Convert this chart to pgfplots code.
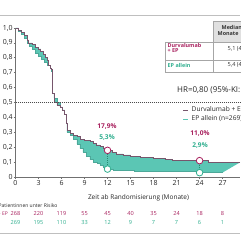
\documentclass[border=0pt]{standalone}
\usepackage{pgfplots}
\pgfplotsset{compat=1.18}
\usepgfplotslibrary{fillbetween}
\usepackage{fontspec}
\setmainfont{Open Sans}
\definecolor{durva}{HTML}{A8215E}
\definecolor{durvaline}{HTML}{76566C}
\definecolor{ep}{HTML}{2FAE8E}
\definecolor{epfill}{HTML}{5BC6B4}
\definecolor{axgray}{HTML}{707070}
\begin{document}
\begin{tikzpicture}[x=1pt,y=1pt]
% separator lines
\draw[black!25, line width=0.8pt] (0,225) -- (240,225);
\draw[black!25, line width=0.8pt] (0,7) -- (240,7);
\begin{axis}[
  at={(15.5pt,63pt)}, anchor=south west, scale only axis,
  width=224.5pt, height=149pt,
  xmin=0, xmax=29.27, ymin=0, ymax=1,
  axis lines*=left, axis line style={axgray, line width=0.6pt},
  tick style={axgray, line width=0.6pt}, tick align=outside, major tick length=2pt,
  xtick={0,3,6,9,12,15,18,21,24,27},
  ytick={0,0.1,0.2,0.3,0.4,0.5,0.6,0.7,0.8,0.9,1.0},
  yticklabels={0,{0,1},{0,2},{0,3},{0,4},{0,5},{0,6},{0,7},{0,8},{0,9},{1,0}},
  ticklabel style={font=\fontsize{7}{8}\selectfont, text=black!85},
  yticklabel style={inner sep=0.6pt},
  xticklabel style={inner sep=1.2pt},
  clip=false,
  /pgf/number format/assume math mode=true,
]
\addplot[name path=durvaP, draw=none, const plot] coordinates {
(0,1.0)(0.4,0.985)(0.8,0.97)(1.2,0.95)(1.5,0.92)(1.7,0.90)(2.2,0.89)(2.6,0.87)(3.0,0.86)(3.3,0.84)(3.6,0.82)(3.9,0.80)(4.1,0.78)(4.3,0.75)(4.5,0.73)(4.7,0.72)(4.86,0.56)(5.0,0.53)(5.1,0.50)(5.4,0.48)(5.8,0.47)(6.1,0.45)(6.4,0.42)(6.6,0.36)(6.7,0.31)(7.2,0.295)(7.6,0.28)(8.0,0.27)(8.5,0.255)(9.0,0.245)(9.7,0.237)(10.2,0.225)(10.6,0.215)(11.0,0.205)(11.4,0.195)(11.8,0.185)(12.0,0.179)(12.6,0.165)(13.2,0.155)(14,0.148)(15,0.14)(16.3,0.132)(18,0.127)(19.5,0.12)(20.5,0.112)(24,0.110)(25.2,0.098)(29.27,0.098)};
\addplot[name path=epP, draw=none, const plot] coordinates {
(0,1.0)(0.4,0.98)(0.8,0.96)(1.2,0.93)(1.5,0.90)(1.8,0.88)(2.2,0.86)(2.6,0.83)(3.0,0.81)(3.4,0.79)(3.8,0.77)(4.2,0.75)(4.5,0.73)(4.7,0.71)(4.86,0.56)(5.1,0.53)(5.4,0.50)(5.8,0.47)(6.1,0.45)(6.4,0.42)(6.6,0.36)(6.7,0.30)(7.2,0.28)(7.6,0.25)(8.0,0.22)(8.4,0.19)(8.8,0.165)(9.2,0.14)(9.7,0.117)(10.2,0.10)(10.6,0.094)(11.0,0.08)(11.4,0.068)(11.8,0.058)(12,0.053)(12.8,0.046)(14,0.042)(15.5,0.038)(18,0.035)(21,0.035)(24,0.030)(27,0.030)};
\addplot[epfill, draw=none] fill between[of=durvaP and epP];
\addplot[epfill!85!black, line width=0.6pt, const plot] coordinates {
(0,1.0)(0.4,0.98)(0.8,0.96)(1.2,0.93)(1.5,0.90)(1.8,0.88)(2.2,0.86)(2.6,0.83)(3.0,0.81)(3.4,0.79)(3.8,0.77)(4.2,0.75)(4.5,0.73)(4.7,0.71)(4.86,0.56)(5.1,0.53)(5.4,0.50)(5.8,0.47)(6.1,0.45)(6.4,0.42)(6.6,0.36)(6.7,0.30)(7.2,0.28)(7.6,0.25)(8.0,0.22)(8.4,0.19)(8.8,0.165)(9.2,0.14)(9.7,0.117)(10.2,0.10)(10.6,0.094)(11.0,0.08)(11.4,0.068)(11.8,0.058)(12,0.053)(12.8,0.046)(14,0.042)(15.5,0.038)(18,0.035)(21,0.035)(24,0.030)(27,0.030)};
\addplot[durvaline, line width=0.7pt, const plot] coordinates {
(0,1.0)(0.4,0.985)(0.8,0.97)(1.2,0.95)(1.5,0.92)(1.7,0.90)(2.2,0.89)(2.6,0.87)(3.0,0.86)(3.3,0.84)(3.6,0.82)(3.9,0.80)(4.1,0.78)(4.3,0.75)(4.5,0.73)(4.7,0.72)(4.86,0.56)(5.0,0.53)(5.1,0.50)(5.4,0.48)(5.8,0.47)(6.1,0.45)(6.4,0.42)(6.6,0.36)(6.7,0.31)(7.2,0.295)(7.6,0.28)(8.0,0.27)(8.5,0.255)(9.0,0.245)(9.7,0.237)(10.2,0.225)(10.6,0.215)(11.0,0.205)(11.4,0.195)(11.8,0.185)(12.0,0.179)(12.6,0.165)(13.2,0.155)(14,0.148)(15,0.14)(16.3,0.132)(18,0.127)(19.5,0.12)(20.5,0.112)(24,0.110)(25.2,0.098)(29.27,0.098)};
% median line
\addplot[black!70, line width=0.6pt, dash pattern=on 0.8pt off 1.2pt] coordinates {(0,0.5)(29.27,0.5)};
% landmark markers
\addplot[ep!80!black, line width=0.6pt, dash pattern=on 0.8pt off 1.2pt] coordinates {(12,0.179)(12,0.053)};
\addplot[ep!80!black, line width=0.6pt, dash pattern=on 0.8pt off 1.2pt] coordinates {(24,0.110)(24,0.029)};
\addplot[only marks, mark=*, mark size=3.3pt, mark options={fill=white, draw=durva, line width=0.8pt}] coordinates {(12,0.179)(24,0.110)};
\addplot[only marks, mark=*, mark size=3.3pt, mark options={fill=white, draw=ep, line width=0.8pt}] coordinates {(12,0.053)(24,0.029)};
\end{axis}
% annotations
\node[font=\fontsize{6.6}{7}\selectfont\bfseries, text=durva] at (107,113) {17,9\%};
\node[font=\fontsize{6.6}{7}\selectfont\bfseries, text=ep] at (107,102) {5,3\%};
\node[font=\fontsize{6.6}{7}\selectfont\bfseries, text=durva] at (200,106) {11,0\%};
\node[font=\fontsize{6.6}{7}\selectfont\bfseries, text=ep] at (200,94) {2,9\%};
% x label
\node[font=\fontsize{6.5}{7}\selectfont, text=black!85] at (138.5,42) {Zeit ab Randomisierung (Monate)};
% risk table
\node[font=\fontsize{5}{6}\selectfont, text=black!85, anchor=west, inner sep=0pt] at (-1.5,34.5) {Patientinnen unter Risiko};
\node[font=\fontsize{5}{6}\selectfont, text=durva, anchor=east, inner sep=0pt] at (8,26.3) {Durvalumab + EP};
\foreach \m/\a/\b in {0/268/269,3/220/195,6/119/110,9/55/33,12/45/12,15/40/9,18/35/7,21/24/7,24/18/6,27/8/1}{
  \node[font=\fontsize{5.6}{7}\selectfont, text=durva] at (15.5+7.67*\m,26.3) {\a};
  \node[font=\fontsize{5.6}{7}\selectfont, text=ep] at (15.5+7.67*\m,17.3) {\b};
}
% table top right
\fill[black!12] (213,219) rectangle (242,198);
\draw[black!35, line width=0.5pt] (213,219) -- (242,219);
\draw[black!35, line width=0.5pt] (213,219) -- (213,168);
\draw[black!35, line width=0.5pt] (165,198) -- (165,168);
\draw[black!35, line width=0.5pt] (165,198) -- (242,198);
\draw[black!35, line width=0.5pt] (165,180) -- (242,180);
\draw[black!35, line width=0.5pt] (165,168) -- (242,168);
\node[font=\fontsize{5.4}{6}\selectfont\bfseries, text=black!80, anchor=west, inner sep=0pt] at (221.5,212.5) {Median-};
\node[font=\fontsize{5.4}{6}\selectfont\bfseries, text=black!80, anchor=west, inner sep=0pt] at (217.5,206.5) {Monate};
\node[font=\fontsize{5.4}{6}\selectfont\bfseries, text=durva, anchor=west, inner sep=0pt] at (167.5,195) {Durvalumab};
\node[font=\fontsize{5.4}{6}\selectfont\bfseries, text=durva, anchor=west, inner sep=0pt] at (167.5,189.5) {+ EP};
\node[font=\fontsize{5.6}{6}\selectfont, text=black!80, anchor=west, inner sep=0pt] at (227.5,191) {5,1 (4,7--6,2)};
\node[font=\fontsize{5.4}{6}\selectfont\bfseries, text=ep, anchor=west, inner sep=0pt] at (167.5,175) {EP allein};
\node[font=\fontsize{5.6}{6}\selectfont, text=black!80, anchor=west, inner sep=0pt] at (227.5,175) {5,4 (4,8--6,2)};
% HR
\node[font=\fontsize{8}{9}\selectfont, text=black!85, anchor=west, inner sep=0pt] at (177,149.5) {HR=0,80 (95\%-KI: 0,66--0,97)};
% legend
\draw[durvaline, line width=0.8pt] (183,130) -- (188,130);
\node[font=\fontsize{6.6}{8}\selectfont, text=black!85, anchor=west, inner sep=0pt] at (191.5,130) {Durvalumab + EP (n=268)};
\draw[epfill, line width=0.8pt] (183,121) -- (188,121);
\node[font=\fontsize{6.6}{8}\selectfont, text=black!85, anchor=west, inner sep=0pt] at (191.5,121) {EP allein (n=269)};
\pgfresetboundingbox
\useasboundingbox (0,0) rectangle (240,240);
\end{tikzpicture}
\end{document}
